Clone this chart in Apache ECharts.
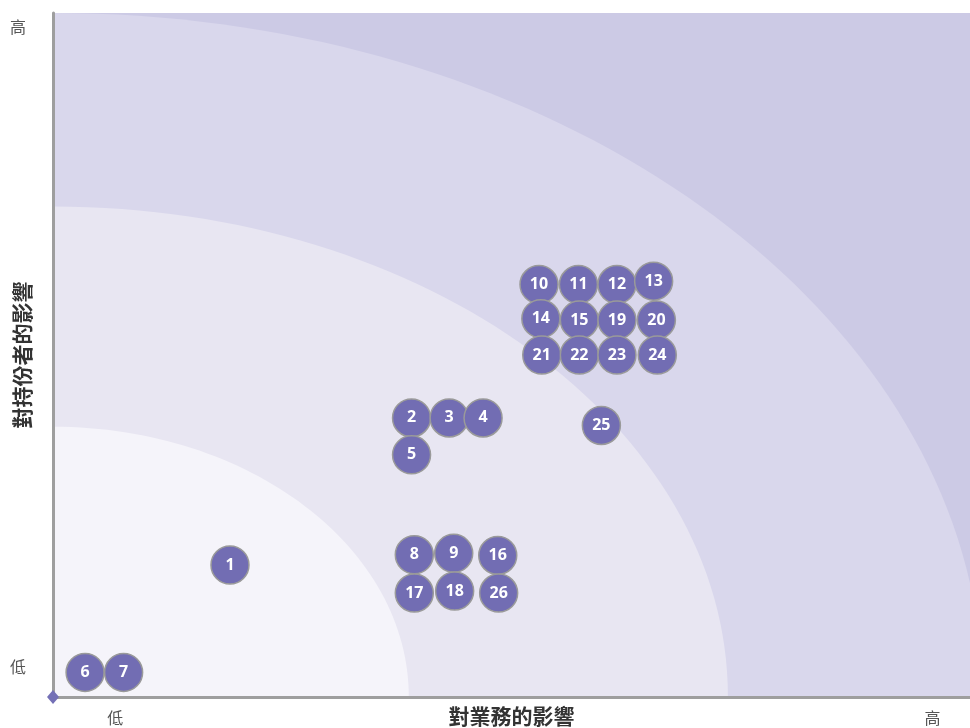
<!DOCTYPE html>
<html>
<head>
<meta charset="utf-8">
<script src="https://cdn.jsdelivr.net/npm/echarts@6/dist/echarts.min.js"></script>
<style>
  html, body { margin: 0; padding: 0; background: #fff; }
  #main { width: 970px; height: 728px; }
</style>
</head>
<body>
<div id="main"></div>
<script>
// 議題編號與位置 (x: 對業務的影響, y: 對持份者的影響)
const topicIds = ['1', '2', '3', '4', '5', '6', '7', '8', '9', '10', '11', '12', '13',
  '14', '15', '16', '17', '18', '19', '20', '21', '22', '23', '24', '25', '26'];
const businessImpact = [19.3, 39.1, 43.2, 46.9, 39.1, 3.5, 7.7, 39.4, 43.7, 53.0, 57.3, 61.5, 65.5,
  53.2, 57.4, 48.5, 39.4, 43.8, 61.5, 65.8, 53.3, 57.4, 61.5, 65.9, 59.8, 48.6];
const stakeholderImpact = [19.3, 40.8, 40.8, 40.8, 35.4, 3.6, 3.6, 20.8, 21.0, 60.3, 60.3, 60.3, 60.8,
  55.3, 55.1, 20.7, 15.2, 15.5, 55.1, 55.1, 50.0, 50.0, 50.0, 50.0, 39.7, 15.2];

// 背景分區 (橢圓半徑, 軸單位), 由外至內
const bandRadiusX = [101.4, 73.6, 38.8];
const bandRadiusY = [100, 71.7, 39.5];
const bandColors = ['#d9d7ec', '#e8e6f2', '#f5f4fa'];

// 軸標籤
const levelLabels = ['低', '高'];
const xLabelValues = [6.8, 95.9];
const yLabelValues = [4.4, 98];

const chart = echarts.init(document.getElementById('main'));

const cjk = '"Noto Sans CJK TC", "Noto Sans CJK SC", sans-serif';

const option = {
  animation: false,
  grid: {
    left: 53,
    right: 0,
    top: 13,
    bottom: 31,
    containLabel: false,
    outerBoundsMode: 'none',
    show: true,
    backgroundColor: '#cccae5',
    borderWidth: 0
  },
  xAxis: {
    type: 'value',
    min: 0,
    max: 100,
    name: '對業務的影響',
    nameLocation: 'middle',
    nameGap: 9,
    nameMoveOverlap: false,
    nameTextStyle: { fontFamily: cjk, fontSize: 21, fontWeight: 'bold', color: '#333' },
    axisLine: { show: true, lineStyle: { color: '#9e9e9e', width: 3 } },
    axisTick: { show: false },
    splitLine: { show: false },
    axisLabel: {
      customValues: xLabelValues,
      margin: 13,
      fontFamily: cjk,
      fontSize: 16,
      color: '#555',
      formatter: function (v) {
        return v < 50 ? levelLabels[0] : levelLabels[1];
      }
    }
  },
  yAxis: {
    type: 'value',
    min: 0,
    max: 100,
    name: '對持份者的影響',
    nameLocation: 'middle',
    nameGap: 20,
    nameMoveOverlap: false,
    nameTextStyle: { fontFamily: cjk, fontSize: 21, fontWeight: 'bold', color: '#333' },
    axisLine: { show: true, lineStyle: { color: '#9e9e9e', width: 3 } },
    axisTick: { show: false },
    splitLine: { show: false },
    axisLabel: {
      customValues: yLabelValues,
      margin: 27,
      fontFamily: cjk,
      fontSize: 16,
      color: '#555',
      formatter: function (v) {
        return v < 50 ? levelLabels[0] : levelLabels[1];
      }
    }
  },
  series: [
    {
      // 背景分區
      type: 'custom',
      silent: true,
      clip: true,
      z: 0,
      data: bandColors.map(function (c, i) { return [bandRadiusX[i], bandRadiusY[i], i]; }),
      renderItem: function (params, api) {
        const center = api.coord([0, 0]);
        const size = api.size([api.value(0), api.value(1)]);
        return {
          type: 'ellipse',
          shape: { cx: center[0], cy: center[1], rx: size[0], ry: size[1] },
          style: { fill: bandColors[api.value(2)] }
        };
      }
    },
    {
      type: 'scatter',
      z: 3,
      symbolSize: 38,
      itemStyle: {
        color: '#726db3',
        opacity: 1,
        borderColor: '#9a9a9a',
        borderWidth: 1.5
      },
      label: {
        show: true,
        position: 'inside',
        formatter: '{b}',
        color: '#fff',
        fontFamily: '"Open Sans", sans-serif',
        fontWeight: 'bold',
        fontSize: 16
      },
      data: topicIds.map(function (id, i) {
        return { name: id, value: [businessImpact[i], stakeholderImpact[i]] };
      })
    },
    {
      // 原點標記
      type: 'scatter',
      silent: true,
      clip: false,
      z: 5,
      symbol: 'diamond',
      symbolSize: [12, 14],
      itemStyle: { color: '#7470b6', opacity: 1 },
      data: [[0, 0]]
    }
  ]
};

chart.setOption(option);
</script>
</body>
</html>
